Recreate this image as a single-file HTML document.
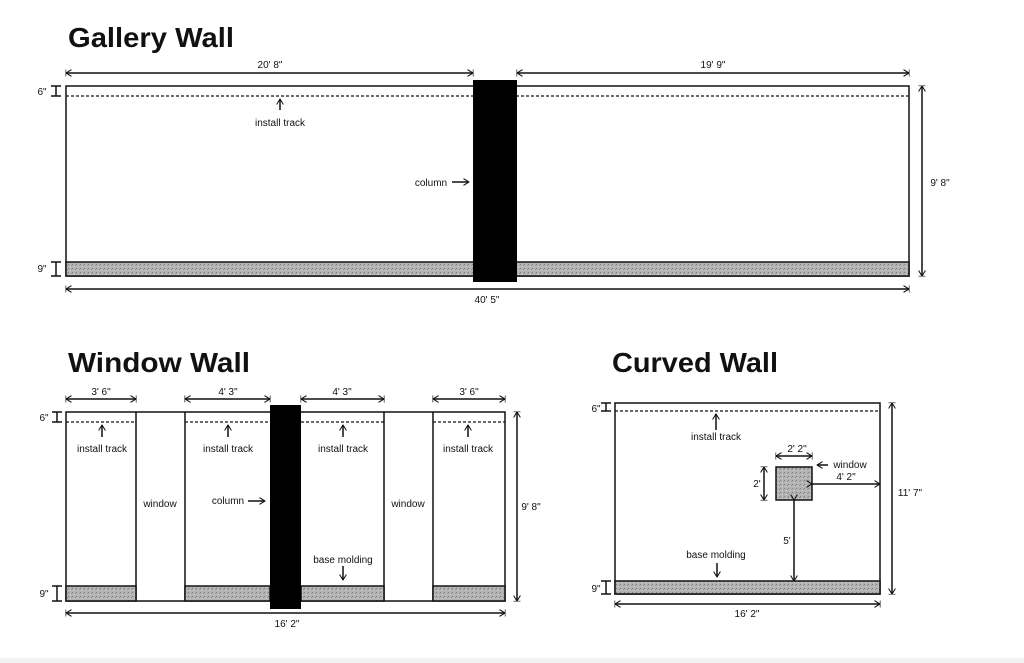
<!DOCTYPE html>
<html><head><meta charset="utf-8"><style>
html,body{margin:0;padding:0;background:#fff;}
svg{display:block;}
text{font-family:"Liberation Sans",sans-serif;fill:#111;}
.t{font-weight:bold;font-size:28px;}
.s{font-size:10px;}
</style></head><body>
<svg width="1024" height="663" viewBox="0 0 1024 663" xmlns="http://www.w3.org/2000/svg">
<defs>
<marker id="a" viewBox="0 0 10 10" refX="9" refY="5" markerWidth="7" markerHeight="7" orient="auto-start-reverse" markerUnits="userSpaceOnUse">
<path d="M1,0 L9,5 L1,10 M9.5,0 L9.5,10" fill="none" stroke="#111" stroke-width="1.5"/></marker>
<marker id="p" viewBox="0 0 10 10" refX="9" refY="5" markerWidth="7" markerHeight="7" orient="auto" markerUnits="userSpaceOnUse">
<path d="M1,0 L9,5 L1,10" fill="none" stroke="#111" stroke-width="1.5"/></marker>
<pattern id="g" width="4" height="4" patternUnits="userSpaceOnUse">
<rect width="4" height="4" fill="#b4b4b4"/><rect x="0" y="0" width="1" height="1" fill="#808080"/><rect x="2" y="2" width="1" height="1" fill="#d4d4d4"/><rect x="3" y="1" width="1" height="1" fill="#929292"/></pattern>
</defs>
<rect x="0" y="658" width="1024" height="5" fill="#f2f2f2"/>
<g stroke="#111" stroke-width="1.5" fill="none">
<!-- Gallery wall -->
<rect x="66" y="86" width="843" height="190"/>
<line x1="66" y1="96" x2="909" y2="96" stroke-dasharray="3,2" stroke-width="1.3"/>
<rect x="66" y="262" width="843" height="14" fill="url(#g)"/>
<line x1="66" y1="73" x2="473" y2="73" marker-start="url(#a)" marker-end="url(#a)"/>
<line x1="517" y1="73" x2="909" y2="73" marker-start="url(#a)" marker-end="url(#a)"/>
<line x1="66" y1="289" x2="909" y2="289" marker-start="url(#a)" marker-end="url(#a)"/>
<line x1="922" y1="86" x2="922" y2="276" marker-start="url(#a)" marker-end="url(#a)"/>
<path d="M56,86V96M51,86H61M51,96H61M56,262V276M51,262H61M51,276H61"/>
<line x1="280" y1="110" x2="280" y2="99" marker-end="url(#p)"/>
<line x1="452" y1="182" x2="469" y2="182" marker-end="url(#p)"/>
<!-- Window wall -->
<rect x="66" y="412" width="439" height="189"/>
<path d="M136,412V601M185,412V601M384,412V601M433,412V601"/>
<path d="M66,422H136M185,422H270M301,422H384M433,422H505" stroke-dasharray="3,2" stroke-width="1.3"/>
<rect x="66" y="586" width="70" height="15" fill="url(#g)"/>
<rect x="185" y="586" width="85" height="15" fill="url(#g)"/>
<rect x="301" y="586" width="83" height="15" fill="url(#g)"/>
<rect x="433" y="586" width="72" height="15" fill="url(#g)"/>
<line x1="66" y1="399" x2="136" y2="399" marker-start="url(#a)" marker-end="url(#a)"/>
<line x1="185" y1="399" x2="270" y2="399" marker-start="url(#a)" marker-end="url(#a)"/>
<line x1="301" y1="399" x2="384" y2="399" marker-start="url(#a)" marker-end="url(#a)"/>
<line x1="433" y1="399" x2="505" y2="399" marker-start="url(#a)" marker-end="url(#a)"/>
<line x1="66" y1="613" x2="505" y2="613" marker-start="url(#a)" marker-end="url(#a)"/>
<line x1="517" y1="412" x2="517" y2="601" marker-start="url(#a)" marker-end="url(#a)"/>
<path d="M57,412V422M52,412H62M52,422H62M57,586V601M52,586H62M52,601H62"/>
<line x1="102" y1="437" x2="102" y2="425" marker-end="url(#p)"/>
<line x1="228" y1="437" x2="228" y2="425" marker-end="url(#p)"/>
<line x1="343" y1="437" x2="343" y2="425" marker-end="url(#p)"/>
<line x1="468" y1="437" x2="468" y2="425" marker-end="url(#p)"/>
<line x1="248" y1="501" x2="265" y2="501" marker-end="url(#p)"/>
<line x1="343" y1="566" x2="343" y2="580" marker-end="url(#p)"/>
<!-- Curved wall -->
<rect x="615" y="403" width="265" height="191"/>
<line x1="615" y1="411" x2="880" y2="411" stroke-dasharray="3,2" stroke-width="1.3"/>
<rect x="615" y="581" width="265" height="13" fill="url(#g)"/>
<rect x="776" y="467" width="36" height="33" fill="url(#g)"/>
<line x1="776" y1="456" x2="812" y2="456" marker-start="url(#a)" marker-end="url(#a)"/>
<line x1="812" y1="484" x2="880" y2="484" marker-start="url(#p)" marker-end="url(#p)"/>
<line x1="764" y1="467" x2="764" y2="500" marker-start="url(#a)" marker-end="url(#a)"/>
<line x1="794" y1="500" x2="794" y2="581" marker-start="url(#p)" marker-end="url(#p)"/>
<line x1="828" y1="465" x2="817" y2="465" marker-end="url(#p)"/>
<line x1="892" y1="403" x2="892" y2="594" marker-start="url(#a)" marker-end="url(#a)"/>
<line x1="615" y1="604" x2="880" y2="604" marker-start="url(#a)" marker-end="url(#a)"/>
<path d="M606,403V411M601,403H611M601,411H611M606,581V594M601,581H611M601,594H611"/>
<line x1="716" y1="430" x2="716" y2="414" marker-end="url(#p)"/>
<line x1="717" y1="563" x2="717" y2="577" marker-end="url(#p)"/>
</g>
<rect x="473" y="80" width="44" height="202" fill="#000"/>
<rect x="270" y="405" width="31" height="204" fill="#000"/>
<text class="t" x="68" y="47" textLength="166" lengthAdjust="spacingAndGlyphs">Gallery Wall</text>
<text class="t" x="68" y="372" textLength="182" lengthAdjust="spacingAndGlyphs">Window Wall</text>
<text class="t" x="612" y="372" textLength="166" lengthAdjust="spacingAndGlyphs">Curved Wall</text>
<g class="s" text-anchor="middle">
<text x="270" y="68">20' 8"</text>
<text x="713" y="68">19' 9"</text>
<text x="487" y="303">40' 5"</text>
<text x="940" y="186">9' 8"</text>
<text x="42" y="95">6"</text>
<text x="42" y="272">9"</text>
<text x="280" y="126">install track</text>
<text x="431" y="186">column</text>
<text x="101" y="395">3' 6"</text>
<text x="228" y="395">4' 3"</text>
<text x="342" y="395">4' 3"</text>
<text x="469" y="395">3' 6"</text>
<text x="44" y="421">6"</text>
<text x="44" y="597">9"</text>
<text x="102" y="452">install track</text>
<text x="228" y="452">install track</text>
<text x="343" y="452">install track</text>
<text x="468" y="452">install track</text>
<text x="160" y="507">window</text>
<text x="408" y="507">window</text>
<text x="228" y="504">column</text>
<text x="343" y="563">base molding</text>
<text x="287" y="627">16' 2"</text>
<text x="531" y="510">9' 8"</text>
<text x="596" y="412">6"</text>
<text x="596" y="592">9"</text>
<text x="716" y="440">install track</text>
<text x="797" y="452">2' 2"</text>
<text x="850" y="468">window</text>
<text x="846" y="480">4' 2"</text>
<text x="757" y="487">2'</text>
<text x="787" y="544">5'</text>
<text x="716" y="558">base molding</text>
<text x="910" y="496">11' 7"</text>
<text x="747" y="617">16' 2"</text>
</g>
</svg>
</body></html>
